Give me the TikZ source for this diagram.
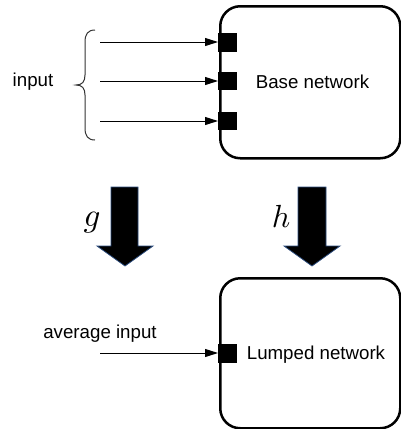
\documentclass[tikz,border=0pt]{standalone}
\usepackage{graphicx}
\usepackage{fontspec}
\setmainfont{Liberation Sans}
\usetikzlibrary{arrows.meta}
\definecolor{arrowedge}{HTML}{2B4C7E}
\tikzset{
  netbox/.style={draw=black, line width=2.5pt, rounded corners=20pt, minimum width=180pt, minimum height=152pt, inner sep=0pt, anchor=north west},
  port/.style={fill=black, draw=none, minimum width=19pt, minimum height=19pt, inner sep=0pt, anchor=north west},
  lbl/.style={font=\fontsize{18.7}{22}\selectfont, inner sep=0pt},
  mathlbl/.style={inner sep=0pt, anchor=base},
  inarrow/.style={draw=black, line width=1pt, -{Triangle[length=13pt,width=8pt]}},
  bigarrow/.style={fill=black, draw=arrowedge, line width=0.8pt},
  bracestyle/.style={draw=black!80, line width=1pt}
}
\begin{document}
\begin{tikzpicture}[x=1pt,y=-1pt]
\useasboundingbox (0,0) rectangle (401,429);
% boxes
\node[netbox] (base) at (219,5) {};
\node[netbox, minimum height=150pt] (lumped) at (219,277) {};
% ports
\node[port] (p1) at (218,33) {};
\node[port, minimum height=18pt] (p2) at (218,72) {};
\node[port, minimum height=18pt] (p3) at (218,112) {};
\node[port] (p4) at (218,344) {};
% texts
\node[lbl] (basetxt) at (312.5,82) {Base network};
\node[lbl] (lumptxt) at (316,355) {Lumped network};
\node[lbl] (input) at (33,82) {input};
\node[lbl] (avg) at (100,334) {average input};
\node[mathlbl] (g) at (92,226) {\scalebox{3.3}{$g$}};
\node[mathlbl] (h) at (281,227) {\scalebox{3.2}{$h$}};
% input arrows
\coordinate (s1) at (100,42);
\coordinate (s2) at (100,81);
\coordinate (s3) at (100,121);
\coordinate (s4) at (100,353);
\draw[inarrow] (s1) -- (s1 -| p1.west);
\draw[inarrow] (s2) -- (s2 -| p2.west);
\draw[inarrow] (s3) -- (s3 -| p3.west);
\draw[inarrow] (s4) -- (s4 -| p4.west);
% brace
\draw[bracestyle] (95,30) .. controls (88,30) and (85,34) .. (85,42) -- (85,75)
  .. controls (85,82) and (82,85) .. (76,85)
  .. controls (82,85) and (85,88) .. (85,95) -- (85,128)
  .. controls (85,136) and (88,140) .. (95,140);
% big arrows
\draw[bigarrow] (111,187) -- (138,187) -- (138,246) -- (153,246) -- (125,266) -- (97,246) -- (111,246) -- cycle;
\draw[bigarrow] (298,187) -- (326,187) -- (326,246) -- (340,246) -- (312,266) -- (284,246) -- (298,246) -- cycle;
\end{tikzpicture}
\end{document}
